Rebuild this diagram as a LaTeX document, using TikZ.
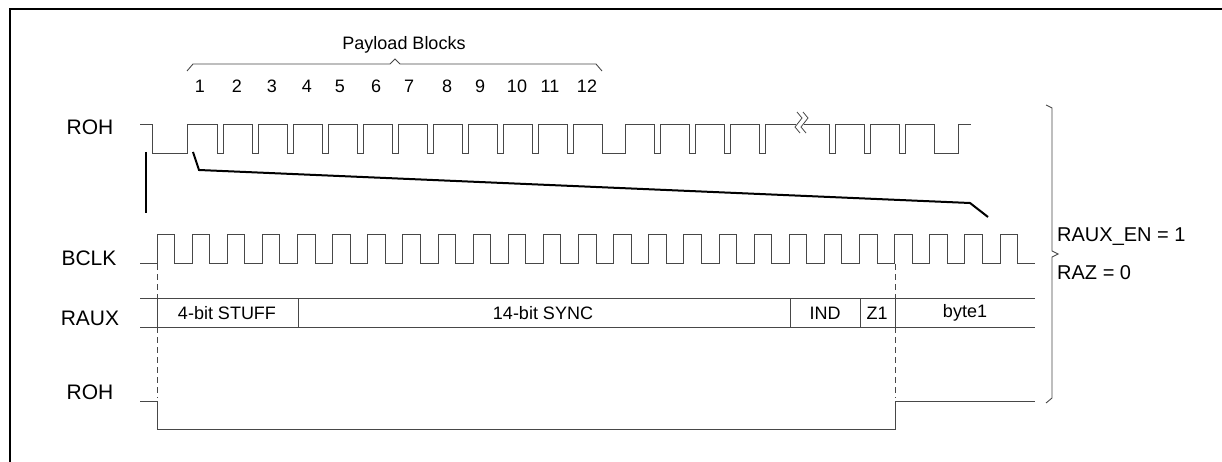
\documentclass[tikz,border=0pt]{standalone}
\usepackage{fontspec}
\setmainfont{Liberation Sans}
\begin{document}
\begin{tikzpicture}[x=1pt,y=-1pt,
  wave/.style={draw=black!72,line width=0.9pt,line join=miter},
  thick line/.style={draw=black,line width=2pt},
  dashline/.style={draw=black!72,line width=0.9pt,dash pattern=on 6pt off 4pt},
  siglabel/.style={font=\fontsize{21}{24}\selectfont,inner sep=0pt},
  numlabel/.style={font=\fontsize{18}{21}\selectfont,inner sep=0pt},
  fieldlabel/.style={font=\fontsize{18}{21}\selectfont,inner sep=0pt},
  sidelabel/.style={font=\fontsize{20}{23}\selectfont,inner sep=0pt,anchor=west}]
\useasboundingbox (0,0) rectangle (1222,462);
% frame
\draw[line width=2.5pt] (10,462) -- (10,9) -- (1222,9);
% labels
\node[siglabel] (lroh) at (90,127) {ROH};
\node[siglabel] (lbclk) at (89,258) {BCLK};
\node[siglabel] (lraux) at (90,318) {RAUX};
\node[siglabel] (lroh2) at (90,392) {ROH};
\node[numlabel] (payload) at (404,45) {Payload Blocks};
\foreach \n/\x in {1/200,2/237,3/272,4/307,5/340,6/376,7/409,8/447,9/480,10/517,11/550,12/587}
  \node[numlabel] (num\n) at (\x,86) {\n};
\node[sidelabel] (rauxen) at (1057,237) {RAUX\_EN = 1};
\node[sidelabel] (raz) at (1057,273) {RAZ = 0};
% payload brace
\draw[wave] (187,71) -- (193,64) -- (390,64) -- (395,59) -- (400,64) -- (596,64) -- (602,71);
% right brace
\draw[wave] (1046,105) -- (1052,108) -- (1052,251) -- (1058,254) -- (1052,257) -- (1052,398) -- (1046,403);
% ROH top waveform
\draw[wave] (140,124) -- (152,124) -- (152,153) -- (187,153) -- (187,124)
  \foreach \p in {217,252,287,322,357,392,427,462,497,532,567} { -- (\p,124) -- (\p,153) -- ({\p+6},153) -- ({\p+6},124) }
  -- (602,124) -- (602,153) -- (625,153) -- (625,124)
  \foreach \p in {654,689,724,759} { -- (\p,124) -- (\p,153) -- ({\p+6},153) -- ({\p+6},124) }
  -- (796,124);
\draw[wave] (804,124)
  \foreach \p in {829,864,899} { -- (\p,124) -- (\p,153) -- ({\p+6},153) -- ({\p+6},124) }
  -- (934,124) -- (934,153) -- (958,153) -- (958,124) -- (971,124);
% break marks
\foreach \d in {0,6}
  \draw[wave,line width=0.8pt] ({797+\d},112) -- ({802+\d},118) -- ({795+\d},127) -- ({800+\d},133);
% BCLK
\draw[wave] (140,263) -- (157,263)
  \foreach \k in {0,...,24} { -- ({157+35.125*\k},263) -- ({157+35.125*\k},234) -- ({174.56+35.125*\k},234) -- ({174.56+35.125*\k},263) }
  -- (1035,263);
% RAUX
\draw[wave] (140,298) -- (1035,298);
\draw[wave] (140,327) -- (1035,327);
\foreach \x in {157,298,790,860,895}
  \draw[wave] (\x,298) -- (\x,327);
\node[fieldlabel] (stuff) at (227,313) {4-bit STUFF};
\node[fieldlabel] (sync) at (543,313) {14-bit SYNC};
\node[fieldlabel] (ind) at (825,313) {IND};
\node[fieldlabel] (z1) at (877,313) {Z1};
\node[fieldlabel] (byte1) at (965,313) {byte1};
% ROH bottom
\draw[wave] (140,401) -- (157,401) -- (157,429) -- (895,429) -- (895,401) -- (1035,401);
% dashed
\draw[dashline] (157,264) -- (157,298);
\draw[dashline] (157,327) -- (157,398);
\draw[dashline] (895,264) -- (895,298);
\draw[dashline] (895,327) -- (895,398);
% thick lines
\coordinate (va) at (146,152);
\coordinate (vb) at (146,213);
\coordinate (sa) at (193,152);
\coordinate (sb) at (199,170);
\coordinate (sc) at (970,203);
\coordinate (sd) at (988,217);
\draw[thick line] (va) -- (vb);
\draw[thick line] (sa) -- (sb) -- (sc) -- (sd);
\end{tikzpicture}
\end{document}
